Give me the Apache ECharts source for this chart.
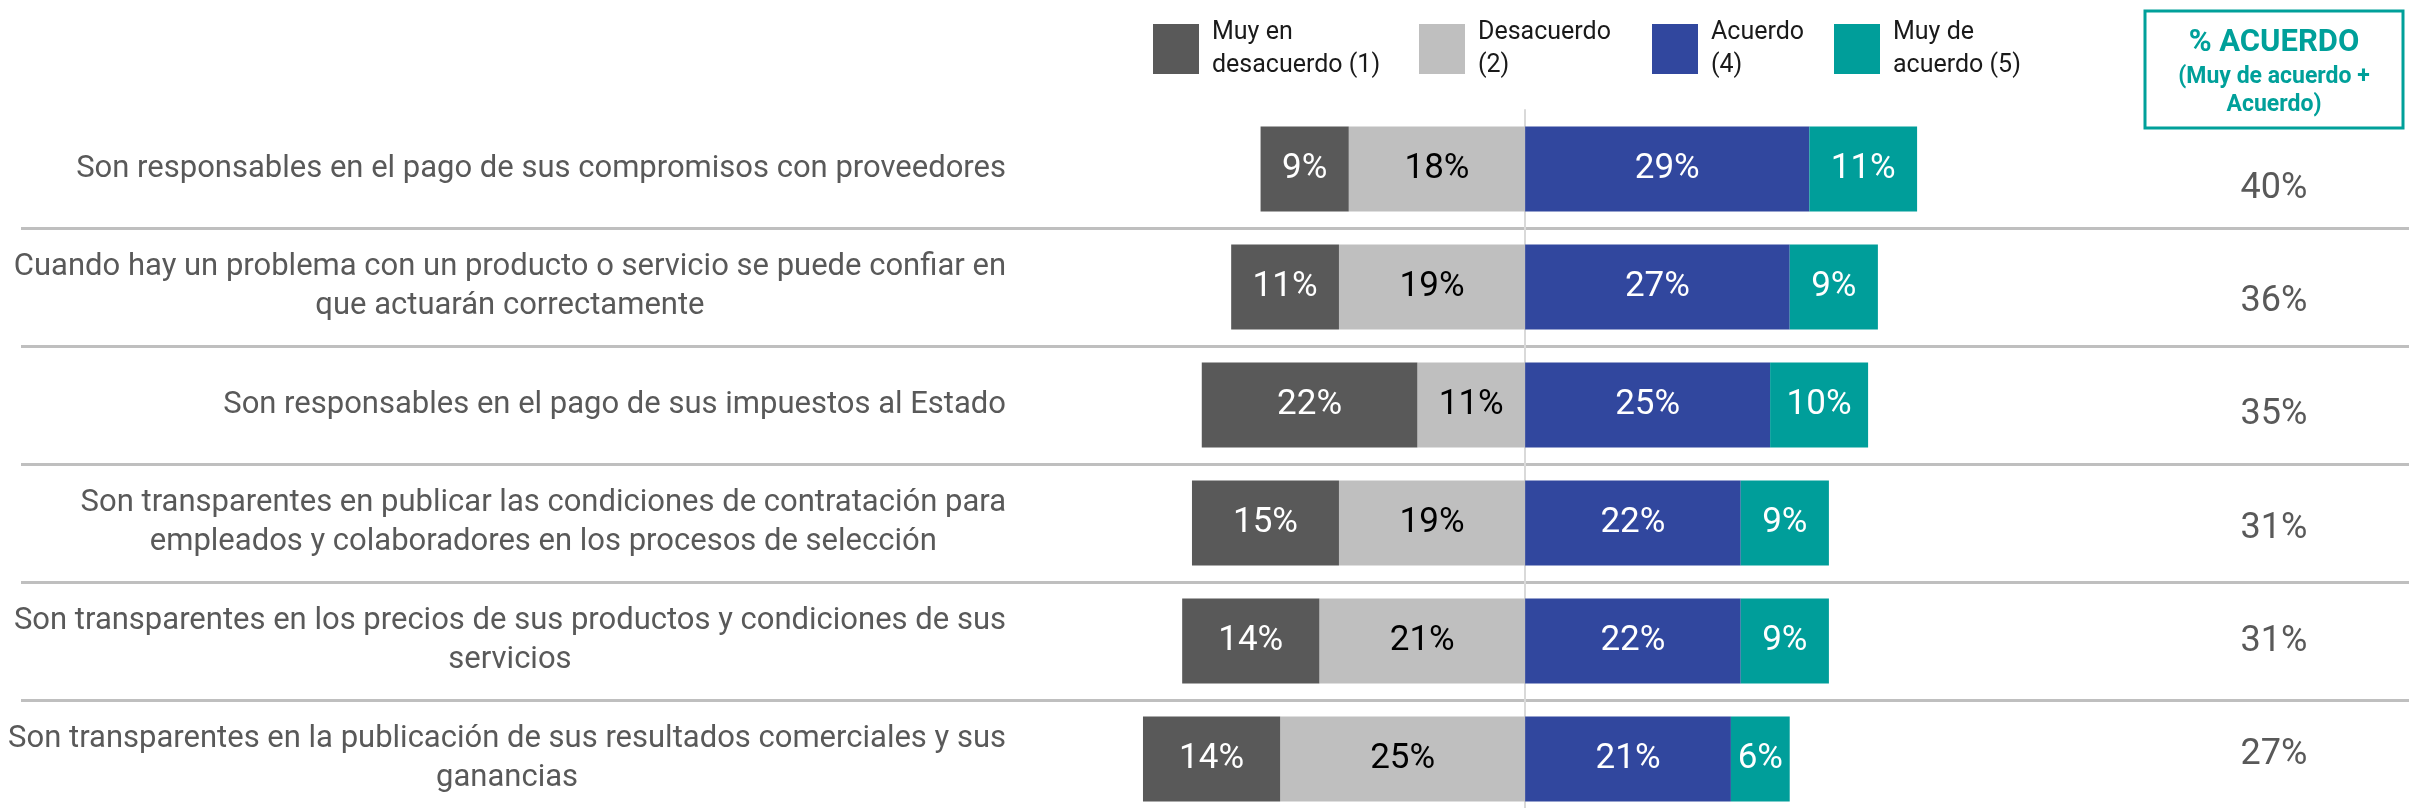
<!DOCTYPE html>
<html>
<head>
<meta charset="utf-8">
<script src="https://cdn.jsdelivr.net/npm/echarts@6/dist/echarts.min.js"></script>
<style>
html, body { margin: 0; padding: 0; background: #fff; }
#chart { width: 2409px; height: 808px; }
</style>
</head>
<body>
<div id="chart"></div>
<script>
var statements = [
    'Son responsables en el pago de sus compromisos con proveedores',
    'Cuando hay un problema con un producto o servicio se puede confiar en\nque actuarán correctamente',
    'Son responsables en el pago de sus impuestos al Estado',
    'Son transparentes en publicar las condiciones de contratación para\nempleados y colaboradores en los procesos de selección',
    'Son transparentes en los precios de sus productos y condiciones de sus\nservicios',
    'Son transparentes en la publicación de sus resultados comerciales y sus\nganancias'
];
var muyDesacuerdo = [9, 11, 22, 15, 14, 14];
var desacuerdo = [18, 19, 11, 19, 21, 25];
var acuerdo = [29, 27, 25, 22, 22, 21];
var muyAcuerdo = [11, 9, 10, 9, 9, 6];
var totalAcuerdo = [40, 36, 35, 31, 31, 27];

var names = ['Muy en\ndesacuerdo (1)', 'Desacuerdo\n(2)', 'Acuerdo\n(4)', 'Muy de\nacuerdo (5)'];
var colors = ['#595959', '#BFBFBF', '#31479E', '#009E9A'];
var legendLeft = [1153, 1419, 1652, 1834];
var FONT = 'Roboto';

var chart = echarts.init(document.getElementById('chart'));

// una leyenda por serie para fijar la posición de cada cuadro
var legends = names.map(function (n, i) {
    return {
        data: [n],
        left: legendLeft[i],
        top: 16,
        padding: 0,
        itemWidth: 46,
        itemHeight: 50,
        icon: 'rect',
        selectedMode: false,
        textStyle: { fontSize: 25, lineHeight: 33, color: '#1a1a1a', fontFamily: FONT, padding: [0, 0, 0, 8] }
    };
});

function barSeries(idx, values, sign, labelColor) {
    return {
        name: names[idx],
        type: 'bar',
        stack: 'total',
        barWidth: 85,
        xAxisIndex: 0,
        yAxisIndex: 0,
        itemStyle: { color: colors[idx] },
        label: {
            show: true,
            position: 'inside',
            color: labelColor,
            fontSize: 35,
            fontFamily: FONT,
            formatter: function (p) { return Math.abs(p.value) + '%'; }
        },
        data: values.map(function (v) { return sign * v; })
    };
}

var option = {
    backgroundColor: '#fff',
    animation: false,
    legend: legends,
    grid: [
        { left: 21, right: 0, top: 110, height: 708, containLabel: false, outerBoundsMode: 'none' },
        { left: 2145, width: 258, top: 132, height: 680, containLabel: false, outerBoundsMode: 'none' }
    ],
    xAxis: [
        { type: 'value', gridIndex: 0, min: -153.5, max: 90.2, show: false },
        { type: 'value', gridIndex: 1, min: 0, max: 1, show: false }
    ],
    yAxis: [
        {
            type: 'category',
            gridIndex: 0,
            inverse: true,
            data: statements,
            axisTick: { show: false },
            axisLine: { show: true, onZero: true, lineStyle: { color: '#D9D9D9', width: 2 } },
            axisLabel: {
                margin: -985,
                formatter: function (v) {
                    return v.split('\n').map(function (l) { return '{c|' + l + '}'; }).join('\n');
                },
                rich: {
                    c: { align: 'center', fontSize: 31, lineHeight: 39, color: '#595959', fontFamily: FONT }
                }
            },
            splitLine: {
                show: true,
                interval: function (i) { return i > 0; },
                lineStyle: { color: '#BFBFBF', width: 3 }
            }
        },
        {
            type: 'category',
            gridIndex: 1,
            inverse: true,
            offset: -129,
            data: totalAcuerdo.map(function (v) { return v + '%'; }),
            axisTick: { show: false },
            axisLine: { show: false },
            splitLine: { show: false },
            axisLabel: { margin: 0, align: 'center', fontSize: 36, color: '#595959', fontFamily: FONT }
        }
    ],
    graphic: [
        {
            type: 'rect',
            shape: { x: 2145, y: 11, width: 258, height: 117 },
            style: { fill: 'none', stroke: '#00A09A', lineWidth: 3 }
        },
        {
            type: 'text', x: 2274, y: 43,
            style: { text: '% ACUERDO', fill: '#00A09A', fontSize: 31, fontWeight: 'bold', fontFamily: FONT, align: 'center', verticalAlign: 'middle' }
        },
        {
            type: 'text', x: 2274, y: 77,
            style: { text: '(Muy de acuerdo +', fill: '#00A09A', fontSize: 23, fontWeight: 'bold', fontFamily: FONT, align: 'center', verticalAlign: 'middle' }
        },
        {
            type: 'text', x: 2274, y: 105,
            style: { text: 'Acuerdo)', fill: '#00A09A', fontSize: 23, fontWeight: 'bold', fontFamily: FONT, align: 'center', verticalAlign: 'middle' }
        }
    ],
    series: [
        barSeries(1, desacuerdo, -1, '#000'),
        barSeries(0, muyDesacuerdo, -1, '#fff'),
        barSeries(2, acuerdo, 1, '#fff'),
        barSeries(3, muyAcuerdo, 1, '#fff')
    ]
};

chart.setOption(option);
</script>
</body>
</html>
